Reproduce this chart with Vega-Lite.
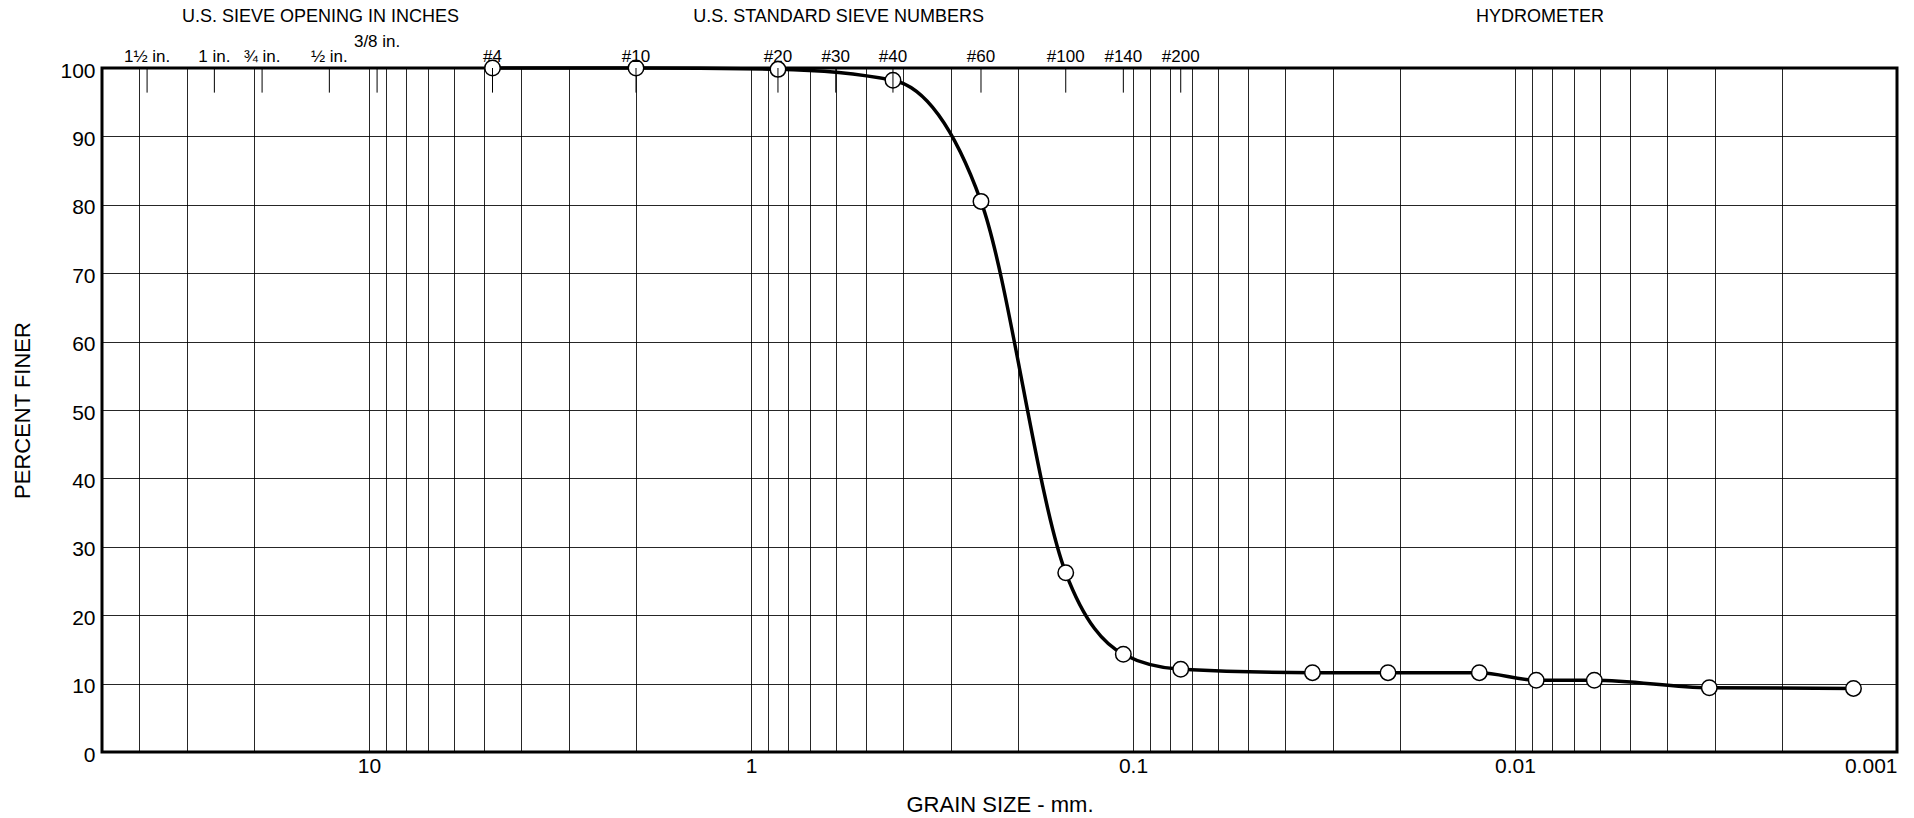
{
  "$schema": "https://vega.github.io/schema/vega-lite/v6.json",
  "autosize": "none",
  "width": 1795,
  "height": 684,
  "padding": {"left": 102, "top": 68, "right": 17, "bottom": 66},
  "background": "white",
  "config": {
    "font": "Liberation Sans",
    "view": {"stroke": "black", "strokeWidth": 3},
    "axis": {"domain": false, "ticks": false, "gridColor": "black", "gridWidth": 1, "gridOpacity": 0.85, "labelColor": "black", "titleColor": "black", "titleFontWeight": "normal"}
  },
  "datasets": {
    "gradation": [
      {"mm": 4.75, "finer": 100.0},
      {"mm": 2.0, "finer": 100.0},
      {"mm": 0.85, "finer": 99.8},
      {"mm": 0.425, "finer": 98.2},
      {"mm": 0.25, "finer": 80.5},
      {"mm": 0.15, "finer": 26.2},
      {"mm": 0.106, "finer": 14.3},
      {"mm": 0.075, "finer": 12.1},
      {"mm": 0.0339, "finer": 11.6},
      {"mm": 0.0215, "finer": 11.6},
      {"mm": 0.0124, "finer": 11.6},
      {"mm": 0.0088, "finer": 10.5},
      {"mm": 0.0062, "finer": 10.5},
      {"mm": 0.0031, "finer": 9.4},
      {"mm": 0.0013, "finer": 9.3}
    ],
    "sieves": [
      {"label": "1½ in.", "mm": 38.1},
      {"label": "1 in.", "mm": 25.4},
      {"label": "¾ in.", "mm": 19.05},
      {"label": "½ in.", "mm": 12.7},
      {"label": "3/8 in.", "mm": 9.525},
      {"label": "#4", "mm": 4.75},
      {"label": "#10", "mm": 2.0},
      {"label": "#20", "mm": 0.85},
      {"label": "#30", "mm": 0.6},
      {"label": "#40", "mm": 0.425},
      {"label": "#60", "mm": 0.25},
      {"label": "#100", "mm": 0.15},
      {"label": "#140", "mm": 0.106},
      {"label": "#200", "mm": 0.075}
    ],
    "headers": [
      {"label": "U.S. SIEVE OPENING IN INCHES", "mm": 13.4},
      {"label": "U.S. STANDARD SIEVE NUMBERS", "mm": 0.59},
      {"label": "HYDROMETER", "mm": 0.0086}
    ]
  },
  "layer": [
    {
      "data": {"name": "gradation"},
      "mark": {"type": "line", "color": "black", "strokeWidth": 3.5, "interpolate": "monotone"},
      "encoding": {
        "x": {
          "field": "mm", "type": "quantitative",
          "scale": {"type": "log", "domain": [0.001, 50], "reverse": true, "nice": false},
          "axis": {
            "title": "GRAIN SIZE - mm.",
            "titleFontSize": 22, "titlePadding": 18,
            "labelFontSize": 21, "labelPadding": 3, "labelFlush": true,
            "values": [40, 30, 20, 10, 9, 8, 7, 6, 5, 4, 3, 2, 1, 0.9, 0.8, 0.7, 0.6, 0.5, 0.4, 0.3, 0.2, 0.1, 0.09, 0.08, 0.07, 0.06, 0.05, 0.04, 0.03, 0.02, 0.01, 0.009, 0.008, 0.007, 0.006, 0.005, 0.004, 0.003, 0.002, 0.001],
            "labelExpr": "datum.value == 10 ? '10' : datum.value == 1 ? '1' : datum.value == 0.1 ? '0.1' : datum.value == 0.01 ? '0.01' : datum.value == 0.001 ? '0.001' : ''"
          }
        },
        "y": {
          "field": "finer", "type": "quantitative",
          "scale": {"domain": [0, 100], "nice": false},
          "axis": {
            "title": "PERCENT FINER",
            "titleFontSize": 22, "titlePadding": 25,
            "labelFontSize": 21, "labelPadding": 7, "labelOffset": 3,
            "values": [0, 10, 20, 30, 40, 50, 60, 70, 80, 90, 100]
          }
        },
        "order": {"field": "mm", "sort": "descending"}
      }
    },
    {
      "data": {"name": "gradation"},
      "mark": {"type": "point", "shape": "circle", "filled": true, "fill": "white", "stroke": "black", "strokeWidth": 1.5, "size": 240, "opacity": 1},
      "encoding": {
        "x": {"field": "mm", "type": "quantitative"},
        "y": {"field": "finer", "type": "quantitative"}
      }
    },
    {
      "data": {"name": "sieves"},
      "mark": {"type": "rule", "color": "black", "strokeWidth": 1},
      "encoding": {
        "x": {"field": "mm", "type": "quantitative"},
        "y": {"datum": 100},
        "y2": {"datum": 96.4}
      }
    },
    {
      "data": {"name": "sieves"},
      "transform": [{"filter": "datum.label != '3/8 in.'"}],
      "mark": {"type": "text", "fontSize": 17, "baseline": "alphabetic", "dy": -6, "color": "black"},
      "encoding": {
        "x": {"field": "mm", "type": "quantitative"},
        "y": {"datum": 100},
        "text": {"field": "label"}
      }
    },
    {
      "data": {"name": "sieves"},
      "transform": [{"filter": "datum.label == '3/8 in.'"}],
      "mark": {"type": "text", "fontSize": 17, "baseline": "alphabetic", "dy": -21, "color": "black"},
      "encoding": {
        "x": {"field": "mm", "type": "quantitative"},
        "y": {"datum": 100},
        "text": {"field": "label"}
      }
    },
    {
      "data": {"name": "headers"},
      "mark": {"type": "text", "fontSize": 18, "baseline": "alphabetic", "dy": -46, "color": "black"},
      "encoding": {
        "x": {"field": "mm", "type": "quantitative"},
        "y": {"datum": 100},
        "text": {"field": "label"}
      }
    }
  ]
}
